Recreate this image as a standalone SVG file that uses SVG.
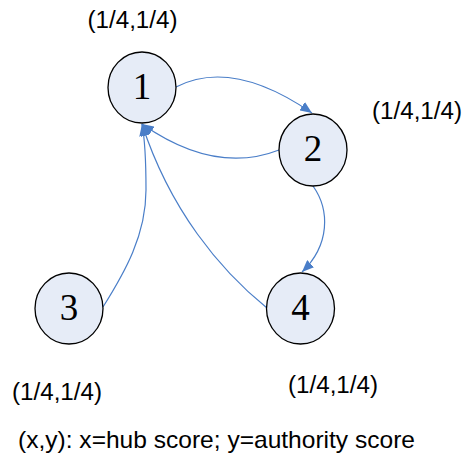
<svg xmlns="http://www.w3.org/2000/svg" width="466" height="461" viewBox="0 0 466 461">
<style>
.node ellipse{fill:#E6ECF7;stroke:#000;stroke-width:1.3}
.node text{font-family:"Liberation Serif","Times New Roman",serif;font-size:37px;text-anchor:middle;fill:#000}
.edge{fill:none;stroke:#4A7EC8;stroke-width:1.2;marker-end:url(#arr)}
.lbl{font-family:"Liberation Sans",Arial,sans-serif;font-size:23px;fill:#000;text-anchor:middle}
.cap{font-size:24px}
</style>
<defs>
<marker id="arr" markerUnits="userSpaceOnUse" markerWidth="12" markerHeight="10" refX="12" refY="5" orient="auto">
<path d="M0,0 L12,5 L0,10 z" fill="#4A7EC8"/>
</marker>
</defs>
<g id="edges">
<path class="edge" d="M176,87 Q232,58 312,113"/>
<path class="edge" d="M279,150 Q215,175 142,124"/>
<path class="edge" d="M103,307 C125,272 146,235 146,190 C146,160 145,140 142,124"/>
<path class="edge" d="M267,308 C220,270 170,210 142,124"/>
<path class="edge" d="M313,186 C330,210 330,245 302,272"/>
</g>
<g id="node1" class="node"><ellipse cx="142" cy="87.5" rx="34" ry="35.5"/><text x="142" y="98.5">1</text></g>
<g id="node2" class="node"><ellipse cx="313" cy="150" rx="34" ry="36"/><text x="313" y="161">2</text></g>
<g id="node3" class="node"><ellipse cx="69" cy="308.5" rx="34" ry="35.5"/><text x="69" y="319.5">3</text></g>
<g id="node4" class="node"><ellipse cx="300.5" cy="308.5" rx="34" ry="35.5"/><text x="300.5" y="319.5">4</text></g>
<g id="labels">
<text class="lbl" x="132.5" y="28" textLength="90" lengthAdjust="spacingAndGlyphs">(1/4,1/4)</text>
<text class="lbl" x="417" y="119" textLength="90" lengthAdjust="spacingAndGlyphs">(1/4,1/4)</text>
<text class="lbl" x="57" y="400" textLength="90" lengthAdjust="spacingAndGlyphs">(1/4,1/4)</text>
<text class="lbl" x="333" y="393" textLength="90" lengthAdjust="spacingAndGlyphs">(1/4,1/4)</text>
<text class="lbl cap" x="216.5" y="448" textLength="397" lengthAdjust="spacingAndGlyphs">(x,y): x=hub score; y=authority score</text>
</g>
</svg>
